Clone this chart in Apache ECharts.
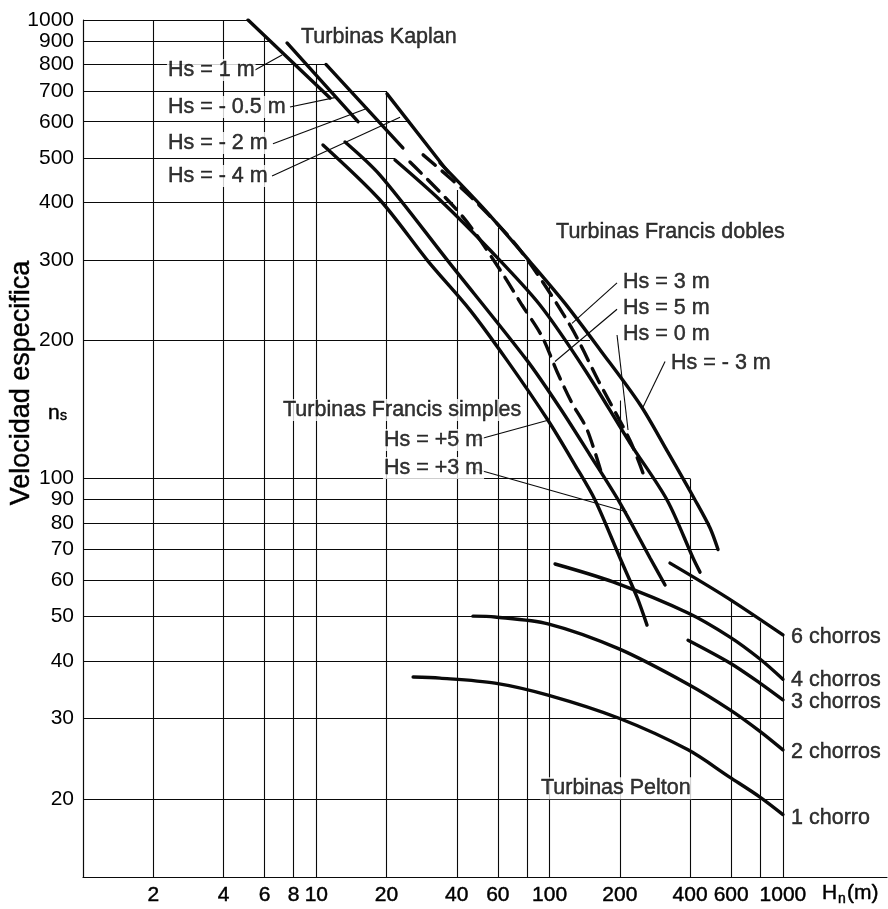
<!DOCTYPE html>
<html>
<head>
<meta charset="utf-8">
<script src="https://cdn.jsdelivr.net/npm/echarts@6/dist/echarts.min.js"></script>
<style>
  html, body { margin: 0; padding: 0; background: #fff; }
  #chart { width: 888px; height: 909px; }
</style>
</head>
<body>
<div id="chart"></div>
<script>
// ---- Axis tick values (H_n in m, specific speed ns) ----
const hTicks  = [2, 4, 6, 8, 10, 20, 40, 60, 100, 200, 400, 600, 1000];
const nsTicks = [20, 30, 40, 50, 60, 70, 80, 90, 100, 200, 300, 400, 500, 600, 700, 800, 900, 1000];

// ---- Stepped grid: horizontal lines run from H = 1 to hGridEnd ----
const hGridNs  = [1000, 900, 800, 700, 600, 500, 400, 300, 200, 100, 90, 80, 70, 60, 50, 40, 30, 20];
const hGridEnd = [5.1, 6.46, 11.0, 20.1, 24.5, 21.75, 38.5, 78.5, 149, 400, 412, 487, 532, 412, 744, 1000, 1000, 1000];
// vertical lines run from the bottom up to vGridTop
const vGridH   = [2, 4, 6, 8, 10, 20, 40, 60, 80, 100, 200, 400, 600, 800, 1000];
const vGridTop = [1000, 1000, 918, 800, 800, 700, 426, 352, 300, 262, 148, 100, 54.3, 48.6, 45.5];

// ---- Kaplan turbines [H, ns] ----
const kaplanHs1   = [[5.10, 1000], [11.45, 676]];
const kaplanHsM05 = [[7.49, 891], [15.09, 600]];
const kaplanHsM2  = [[11.0, 800], [23.5, 526]];
const kaplanHsM4  = [[20.1, 690], [36.7, 466]];

// ---- Francis simple turbines ----
const simplesHs5 = [[10.68, 534], [18.75, 405], [30.1, 298], [45.6, 233], [65.7, 181], [98.4, 134],
                    [128.5, 107], [156.5, 89.8], [200.3, 67.1], [236.9, 55.1], [261.5, 47.9]];
const simplesHs3 = [[13.28, 542], [18.75, 459], [36.7, 298], [80.0, 181], [110.8, 142.5], [149, 112.5],
                    [200.3, 88.4], [269.4, 67.1], [312.4, 58.6]];

// ---- Francis double turbines ----
const doblesHs0  = [[21.75, 495], [33.9, 405], [55.5, 315], [90.9, 239], [141.8, 172.5], [221.1, 119.5],
                    [318.6, 89.8], [411.8, 67.1], [441.1, 62.5]];
const doblesHsM3 = [[33.9, 488], [52.9, 385], [82.4, 297], [116.4, 241], [164.4, 191], [244.1, 145],
                    [321.7, 114], [420, 89.8], [487, 78], [527, 70]];
const doblesHs3  = [[28.7, 508], [46.5, 409], [74.7, 315], [122.3, 216], [161.2, 164], [221.1, 121], [256.4, 100]];
const doblesHs5  = [[25.2, 490], [42.5, 372], [62.5, 281], [76.1, 239], [92.8, 204], [107.6, 171],
                    [124.7, 146], [144.6, 128], [169.4, 100]];

// ---- Pelton turbines ----
const pelton6 = [[328, 65.4], [576, 55.0], [1000, 45.6]];
const pelton4 = [[105.5, 65.1], [186.9, 59.5], [392, 50.9], [593, 45.1], [797, 40.4], [1000, 36.5]];
const pelton3 = [[392, 44.4], [593, 39.6], [797, 35.8], [1000, 32.9]];
const pelton2 = [[46.9, 50.1], [58.3, 49.9], [98.4, 48.2], [198.4, 42.5], [392, 35.6], [593, 31.3], [797, 28.1], [1000, 25.6]];
const pelton1 = [[26.0, 36.9], [33.9, 36.7], [58.3, 35.8], [98.4, 33.7], [198.4, 30.0], [392, 25.6], [593, 22.3], [797, 20.2], [1000, 18.5]];

// ---- Annotations (text anchored at its left-middle, in H / ns units) ----
const notes = [
  { text: 'Turbinas Kaplan',          at: [8.51, 918] },
  { text: 'Hs = 1 m',                 at: [2.29, 778] },
  { text: 'Hs = - 0.5 m',             at: [2.29, 646] },
  { text: 'Hs = - 2 m',               at: [2.29, 539] },
  { text: 'Hs = - 4 m',               at: [2.29, 457] },
  { text: 'Turbinas Francis dobles',  at: [105.5, 345] },
  { text: 'Hs = 3 m',                 at: [204.3, 268] },
  { text: 'Hs = 5 m',                 at: [204.3, 235.5] },
  { text: 'Hs = 0 m',                 at: [204.3, 206.7] },
  { text: 'Hs = - 3 m',               at: [328, 178.6] },
  { text: 'Turbinas Francis simples', at: [7.13, 141] },
  { text: 'Hs = +5 m',                at: [19.3, 121.3] },
  { text: 'Hs = +3 m',                at: [19.3, 105.4] },
  { text: '6 chorros',                at: [1073, 45.1] },
  { text: '4 chorros',                at: [1073, 36.4] },
  { text: '3 chorros',                at: [1073, 32.6] },
  { text: '2 chorros',                at: [1073, 25.3] },
  { text: '1 chorro',                 at: [1073, 18.2] },
  { text: 'Turbinas Pelton',          at: [90.9, 21.1] }
];
// leader lines from labels to curves
const leaders = [
  [[5.46, 778], [7.13, 839]],
  [[7.71, 646], [12.27, 679]],
  [[6.52, 537], [16.66, 643]],
  [[6.46, 457], [22.85, 614]],
  [[194.5, 267], [124.7, 218]],
  [[194.5, 234], [105.5, 180]],
  [[194.5, 205.6], [216.8, 127.6]],
  [[312.4, 180], [251.4, 143.2]],
  [[48.4, 121.3], [98.4, 134]],
  [[46.5, 105.4], [214.7, 84.5]]
];

const FONT = '"Liberation Sans", Arial, Helvetica, sans-serif';
const INK = '#0a0a0a';
const TXT = { color: '#000', textBorderColor: '#000', textBorderWidth: 0.45 };
const lg = v => Math.log10(v);
const toLog = pts => pts.map(p => [lg(p[0]), lg(p[1])]);

const Y_MIN = lg(13.52);
const X_MAX = 3.446;

const gridSegs = [];
hGridNs.forEach((ns, i) => gridSegs.push({ coords: [[0, lg(ns)], [lg(hGridEnd[i]), lg(ns)]] }));
vGridH.forEach((h, i) => gridSegs.push({ coords: [[lg(h), Y_MIN], [lg(h), lg(vGridTop[i])]] }));

function curve(name, pts, opts) {
  opts = opts || {};
  return {
    name: name, type: 'line', data: toLog(pts), z: 4,
    symbol: 'none', showSymbol: false, silent: true,
    smooth: opts.smooth === undefined ? 0.3 : opts.smooth,
    lineStyle: { color: INK, width: 3.4, type: opts.dash || 'solid', cap: 'round' }
  };
}

function gText(x, y, text, size, extra) {
  return Object.assign({
    type: 'text', x: x, y: y,
    style: { text: text, fontFamily: FONT, fontSize: size, fill: '#000', stroke: '#000', lineWidth: 0.45,
             align: 'left', verticalAlign: 'middle' }
  }, extra || {});
}

const series = [
  {
    type: 'lines', coordinateSystem: 'cartesian2d', silent: true, z: 1,
    lineStyle: { color: INK, width: 1.1, opacity: 1 },
    data: gridSegs
  },
  {
    type: 'lines', coordinateSystem: 'cartesian2d', silent: true, z: 2,
    lineStyle: { color: INK, width: 1.1, opacity: 1 },
    data: leaders.map(l => ({ coords: toLog(l) }))
  },
  curve('Kaplan Hs=1', kaplanHs1, { smooth: false }),
  curve('Kaplan Hs=-0.5', kaplanHsM05, { smooth: false }),
  curve('Kaplan Hs=-2', kaplanHsM2, { smooth: false }),
  curve('Kaplan Hs=-4', kaplanHsM4, { smooth: false }),
  curve('Simples Hs=+5', simplesHs5),
  curve('Simples Hs=+3', simplesHs3),
  curve('Dobles Hs=0', doblesHs0),
  curve('Dobles Hs=-3', doblesHsM3),
  curve('Dobles Hs=3', doblesHs3, { dash: [16, 9] }),
  curve('Dobles Hs=5', doblesHs5, { dash: [16, 9] }),
  curve('Pelton 6', pelton6),
  curve('Pelton 4', pelton4),
  curve('Pelton 3', pelton3),
  curve('Pelton 2', pelton2),
  curve('Pelton 1', pelton1),
  {
    type: 'scatter', symbolSize: 0, silent: true, z: 6,
    data: notes.map(n => ({
      value: [lg(n.at[0]), lg(n.at[1])],
      label: Object.assign({
        show: true, formatter: n.text, position: 'right', distance: 0,
        fontFamily: FONT, fontSize: 21.5,
        backgroundColor: '#fff', padding: [0, 1]
      }, TXT)
    }))
  }
];

const chart = echarts.init(document.getElementById('chart'), null, { renderer: 'canvas' });
chart.setOption({
  backgroundColor: '#fff',
  animation: false,
  grid: { left: 83, right: 1, top: 20, bottom: 32, containLabel: false },
  xAxis: {
    type: 'value', min: 0, max: X_MAX,
    axisLine: { show: true, lineStyle: { color: INK, width: 1.2 } },
    axisTick: { show: false },
    splitLine: { show: false },
    axisLabel: Object.assign({
      customValues: hTicks.map(lg),
      formatter: v => String(Math.round(Math.pow(10, v))),
      fontFamily: FONT, fontSize: 21, margin: 8,
      showMinLabel: true, showMaxLabel: true
    }, TXT)
  },
  yAxis: {
    type: 'value', min: Y_MIN, max: 3,
    axisLine: { show: true, lineStyle: { color: INK, width: 1.2 } },
    axisTick: { show: false },
    splitLine: { show: false },
    axisLabel: {
      customValues: nsTicks.map(lg),
      formatter: v => String(Math.round(Math.pow(10, v))),
      fontFamily: FONT, fontSize: 21, margin: 9, color: '#000',
      showMinLabel: true, showMaxLabel: true
    }
  },
  graphic: [
    gText(22, 383, 'Velocidad especifica', 27, { rotation: Math.PI / 2 }),
    gText(48, 413, 'n', 21),
    gText(60, 416, 's', 14),
    gText(822, 893, 'H', 21),
    gText(838, 899, 'n', 14),
    gText(847, 893, '(m)', 21)
  ].map((g, i) => {
    if (i === 0) { g.style.align = 'center'; }
    return g;
  }),
  series: series
});
</script>
</body>
</html>
